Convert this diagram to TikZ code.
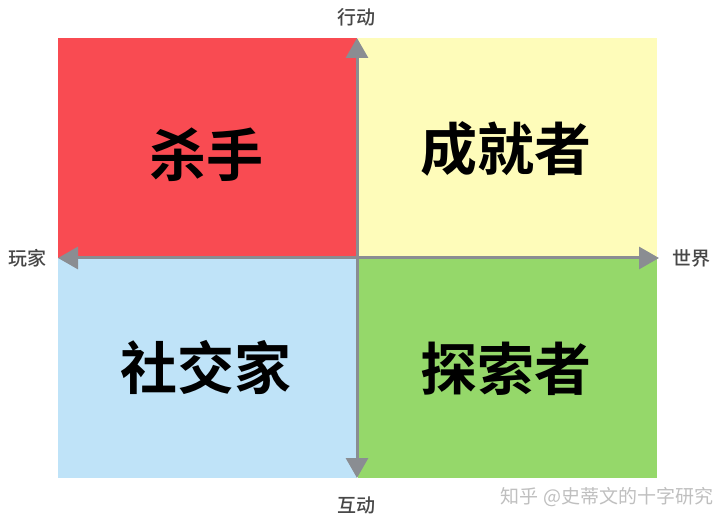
\documentclass[tikz,border=0pt]{standalone}
\usepackage{fontspec}
\newfontfamily\cjk{Noto Sans CJK SC}
\newfontfamily\cjkm{Noto Sans CJK SC Medium}
\newfontfamily\cjkb{Noto Sans CJK SC Bold}
\usetikzlibrary{arrows.meta}
\definecolor{qred}{HTML}{F94B52}
\definecolor{qyellow}{HTML}{FEFCBA}
\definecolor{qblue}{HTML}{BFE3F8}
\definecolor{qgreen}{HTML}{95D86A}
\definecolor{axisgray}{HTML}{8A8D92}
\tikzset{
  quad/.style={draw=none, inner sep=0pt, minimum width=299pt, minimum height=220pt},
  bigtext/.style={font=\cjkb\fontsize{57}{57}\selectfont, text=black},
  axislabel/.style={font=\cjkm\fontsize{19}{19}\selectfont, text=black!72},
  axis/.style={draw=axisgray, line width=3pt, -{Triangle[length=20pt,width=22pt]}},
}
\begin{document}
\begin{tikzpicture}[x=1pt,y=-1pt]
\useasboundingbox[fill=white] (0,0) rectangle (720,526);
\node[quad, fill=qred, anchor=north west] (kill) at (58,38) {};
\node[quad, fill=qyellow, anchor=north west] (ach) at (358,38) {};
\node[quad, fill=qblue, anchor=north west] (soc) at (58,258) {};
\node[quad, fill=qgreen, anchor=north west] (exp) at (358,258) {};
\node[bigtext] at (206,155) {杀手};
\node[bigtext] at (506,149) {成就者};
\node[bigtext] at (206,367) {社交家};
\node[bigtext] at (506,369) {探索者};
\coordinate (c) at (357,258);
\coordinate (top) at (357,38);
\coordinate (bot) at (357,478);
\coordinate (lft) at (58,258);
\coordinate (rgt) at (659,258);
\draw[axis] (c) -- (top);
\draw[axis] (c) -- (bot);
\draw[axis] (c) -- (lft);
\draw[axis] (c) -- (rgt);
\node[axislabel] (act) at (356,17) {行动};
\node[axislabel] (inter) at (356,505) {互动};
\node[axislabel] (player) at (28,258) {玩家};
\node[axislabel] (world) at (691,258) {世界};
\node[font=\cjk\fontsize{19}{19}\selectfont, text=black!25] (wm) at (607,497) {知乎 @史蒂文的十字研究};
\end{tikzpicture}
\end{document}
